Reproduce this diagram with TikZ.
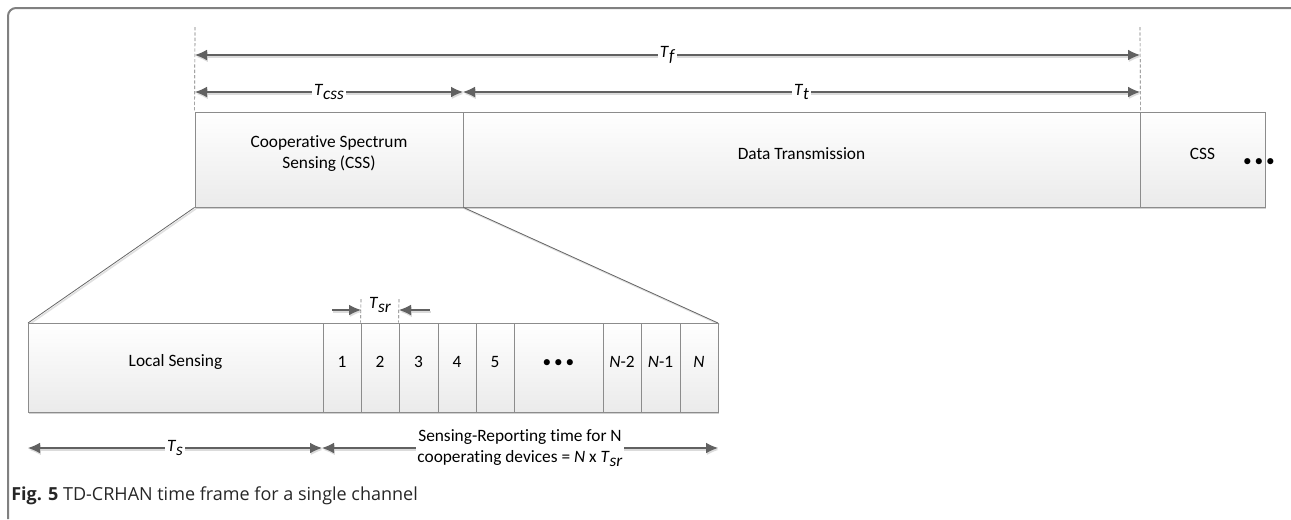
\documentclass[tikz,border=0pt]{standalone}
\usepackage{fontspec}
\setmainfont{Carlito}[Ligatures=NoCommon]
\newfontfamily\capfont{Open Sans}
\usetikzlibrary{arrows.meta,shadows,fit}

% italic T with a lowered italic index
\newcommand{\Tsym}[1]{\textit{T}\raisebox{-0.5ex}{\textit{#1}}}

\begin{document}
\begin{tikzpicture}[x=0.75pt,y=-0.75pt,
  font=\fontsize{13}{15.5}\selectfont,
  >={Latex[length=9pt,width=8pt]},
  blk/.style={draw=black!45, line width=0.6pt, top color=white, bottom color=black!8,
    inner sep=0pt, align=center,
    drop shadow={shadow xshift=1pt, shadow yshift=-1.5pt, fill=black!18, opacity=1}},
  dim/.style={<->, draw=black!62, line width=0.8pt,
    preaction={draw=black!14, line width=1.4pt, transform canvas={xshift=0.6pt, yshift=-1.4pt}}},
  oneway/.style={dim, <-},
  dimlab/.style={fill=white, inner sep=1.2pt, align=center},
  guide/.style={draw=black!55, dashed, dash pattern=on 2.5pt off 1.5pt, line width=0.5pt},
  zoomln/.style={draw=black!60, line width=0.6pt,
    preaction={draw=black!12, line width=1.2pt, transform canvas={xshift=1pt, yshift=-1pt}}},
  frame/.style={draw=black!50, line width=1.5pt, rounded corners=6pt}]
\useasboundingbox (0,0) rectangle (1291,519);

% outer frame
\draw[frame] (8,519) -- (8,8) -- (1291,8);

% frame row
\node[blk, fit={(195,112) (463,207)}] (css) {Cooperative Spectrum\\Sensing (CSS)};
\node[blk, fit={(463,112) (1140,207)}] (data) {Data Transmission};
\node[blk, fit={(1140,112) (1265,207)}] (cssnext) {CSS\hspace*{1.6em}};
\node at (1259,163) (more) {\textbullet\,\textbullet\,\textbullet};

% zoom lines
\draw[zoomln] (css.south west) -- (28,323);
\draw[zoomln] (css.south east) -- (718,323);

% sensing row
\node[blk, fit={(28,323) (323,412)}] (local) {Local Sensing};
\foreach \xa/\xb/\lab [count=\i] in {323/361/1, 361/399/2, 399/438/3, 438/476/4, 476/514/5,
    514/603/{\textbullet\,\textbullet\,\textbullet}, 603/641/{\textit{N}-2},
    641/680/{\textit{N}-1}, 680/718/\textit{N}}
  \node[blk, fit={(\xa,323) (\xb,412)}] (slot\i) {\lab};

% guides
\coordinate (gL) at (195,27);
\coordinate (gR) at (1140,27);
\draw[guide] (gL) -- (css.north west);
\draw[guide] (gR) -- (data.north east);
\coordinate (g2) at (361,299);
\coordinate (g3) at (399,299);
\draw[guide] (g2) -- (slot2.north west);
\draw[guide] (g3) -- (slot3.north west);

% durations
\coordinate (fL) at (195,55);
\coordinate (fR) at (1140,55);
\coordinate (cL) at (195,92);
\coordinate (cM) at (463,92);
\coordinate (cR) at (1140,92);
\draw[dim] (fL) -- node[dimlab] (tf) {\Tsym{f}} (fR);
\draw[dim] (cL) -- node[dimlab] (tcss) {\Tsym{css}} (cM);
\draw[dim] (cM) -- node[dimlab] (tt) {\Tsym{t}} (cR);

\coordinate (srA) at (332,310);
\coordinate (srB) at (361,310);
\coordinate (srC) at (399,310);
\coordinate (srD) at (430,310);
\draw[oneway] (srB) -- (srA);
\draw[oneway] (srC) -- (srD);
\node at (380,305) (tsr) {\Tsym{sr}};

\coordinate (sL) at (28,448);
\coordinate (sM) at (322,448);
\coordinate (sR) at (718,448);
\draw[dim] (sL) -- node[dimlab] (ts) {\Tsym{s}} (sM);
\draw[dim] (sM) -- node[dimlab] (tn) {Sensing-Reporting time for N\\cooperating devices = \textit{N} x \Tsym{sr}} (sR);

% caption
\node[anchor=west, inner sep=0pt, font=\capfont\fontsize{13.5}{16}\selectfont, text=black!85]
  at (11,496) (cap) {\textbf{Fig. 5} TD-CRHAN time frame for a single channel};
\end{tikzpicture}
\end{document}
